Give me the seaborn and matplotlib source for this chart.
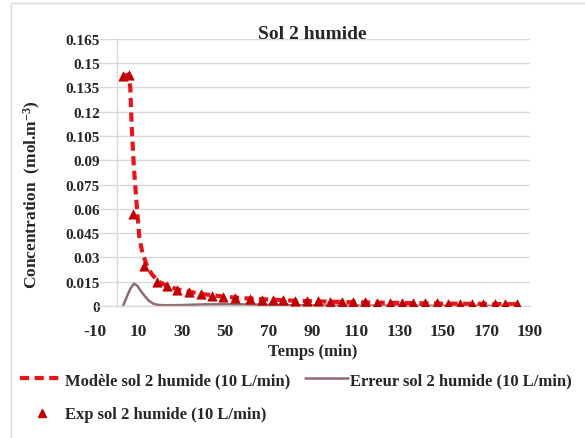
import numpy as np
import pandas as pd
import matplotlib
matplotlib.use("Agg")
import matplotlib.pyplot as plt
from matplotlib.lines import Line2D
import seaborn as sns

# ── Data ──────────────────────────────────────────────────
model_t = [3, 5.5, 6.3, 7, 8, 9.3, 10.5, 12, 14, 16, 18.5, 20, 23, 28, 33, 40, 50,
           60, 70, 80, 90, 100, 110, 120, 130, 140, 150, 160, 170, 184]
model_c = [0.142, 0.143, 0.135, 0.11, 0.085, 0.062, 0.042, 0.032, 0.025, 0.020,
           0.016, 0.0145, 0.0125, 0.0102, 0.0088, 0.0072, 0.0056, 0.0046, 0.0039,
           0.0033, 0.0029, 0.0025, 0.0022, 0.0020, 0.0018, 0.0016, 0.0014, 0.0013,
           0.0012, 0.0010]

err_t = [3, 5, 6.5, 8, 9.5, 11, 13, 15, 17, 19, 22, 30, 40, 50, 60, 70, 80, 100,
         130, 184]
err_c = [0.0, 0.0065, 0.011, 0.0137, 0.0125, 0.0095, 0.006, 0.003, 0.0013, 0.0006,
         0.0004, 0.0005, 0.0009, 0.001, 0.0009, 0.0006, 0.0004, 0.0002, 0.0001, 0.0]

exp_t = [3, 5.5, 7.5, 12.8, 18.5, 23, 28, 33.5, 39, 44, 49, 54.4, 61.3, 66.8, 71.8,
         76.4, 82, 87.5, 92.5, 98, 103.6, 108.6, 114.1, 119.7, 125.6, 131.1, 136.2,
         141.7, 147.2, 152.3, 157.8, 163.3, 168.4, 173.9, 178.5, 184]
exp_c = [0.142, 0.143, 0.057, 0.0245, 0.015, 0.012, 0.010, 0.0087, 0.0075, 0.0064,
         0.0056, 0.0046, 0.0042, 0.0039, 0.0036, 0.0034, 0.0032, 0.0030, 0.0028,
         0.0026, 0.0024, 0.0023, 0.0022, 0.0020, 0.0019, 0.0018, 0.0017, 0.0016,
         0.0015, 0.0014, 0.0013, 0.0012, 0.0012, 0.0011, 0.0010, 0.0010]

x_ticks = [-10, 10, 30, 50, 70, 90, 110, 130, 150, 170, 190]
y_ticks = [0, 0.015, 0.03, 0.045, 0.06, 0.075, 0.09, 0.105, 0.12, 0.135, 0.15, 0.165]
y_labels = ["0", "0.015", "0.03", "0.045", "0.06", "0.075", "0.09", "0.105",
            "0.12", "0.135", "0.15", "0.165"]

lbl_model = "Modèle sol 2 humide (10 L/min)"
lbl_err = "Erreur sol 2 humide (10 L/min)"
lbl_exp = "Exp sol 2 humide (10 L/min)"

# ── Styling ───────────────────────────────────────────────
sns.set_theme(style="white")
plt.rcParams["font.family"] = ["Liberation Serif", "DejaVu Serif"]
plt.rcParams["font.weight"] = "bold"
plt.rcParams["axes.labelweight"] = "bold"
plt.rcParams["mathtext.fontset"] = "custom"
plt.rcParams["mathtext.rm"] = "Liberation Serif:bold"
plt.rcParams["mathtext.it"] = "Liberation Serif:bold"
plt.rcParams["mathtext.bf"] = "Liberation Serif:bold"

C_MODEL = "#E8141B"
C_EXP = "#C00000"
C_ERR = "#8E6B6E"
C_GRID = "#D9D9D9"
FS_TICK = 12.5
FS = 12

fig = plt.figure(figsize=(5.85, 4.39), dpi=100)
ax = fig.add_axes([0.162, 0.301, 0.744, 0.608])

df_model = pd.DataFrame({"t": model_t, "c": model_c})
df_err = pd.DataFrame({"t": err_t, "c": err_c})
df_exp = pd.DataFrame({"t": exp_t, "c": exp_c})

sns.lineplot(data=df_err, x="t", y="c", ax=ax, color=C_ERR, linewidth=1.8,
             sort=False, legend=False)
sns.lineplot(data=df_model, x="t", y="c", ax=ax, color=C_MODEL, linewidth=3.0,
             sort=False, legend=False)
ax.lines[-1].set_dashes([2.2, 1.3])
sns.scatterplot(data=df_exp, x="t", y="c", ax=ax, color=C_EXP, marker="^", s=45,
                edgecolor=C_EXP, linewidth=0.5, zorder=4, legend=False)

ax.set_xlim(-10, 190)
ax.set_ylim(0, 0.165)
ax.set_xticks(x_ticks)
ax.set_xticklabels([str(v) for v in x_ticks], fontsize=FS_TICK, fontweight="bold")
ax.set_yticks(y_ticks)
ax.set_yticklabels(y_labels, fontsize=FS_TICK, fontweight="bold")
ax.tick_params(axis="both", length=0)
ax.tick_params(axis="y", pad=12)
ax.tick_params(axis="x", pad=12)

ax.grid(axis="y", color=C_GRID, linewidth=1.0)
ax.grid(axis="x", visible=False)
for s in ["top", "right"]:
    ax.spines[s].set_visible(False)
ax.spines["left"].set_position(("data", 0))
ax.spines["left"].set_color(C_GRID)
ax.spines["bottom"].set_color(C_GRID)
ax.spines["left"].set_linewidth(1.0)
ax.spines["bottom"].set_linewidth(1.0)
ax.set_axisbelow(True)

ax.set_xlabel("Temps (min)", fontsize=FS, fontweight="bold", labelpad=3)
ax.set_ylabel("")
fig.text(0.055, 0.558, "Concentration  (mol.m$^{-3}$)", rotation=90,
         ha="center", va="center", fontsize=12.5, fontweight="bold")
fig.text(0.534, 0.922, "Sol 2 humide", ha="center", va="center", fontsize=14,
         fontweight="bold")

# legend below the plot: row 1 = model, error ; row 2 = exp
h_model = Line2D([], [], color=C_MODEL, linewidth=3.0, dashes=[2.2, 1.3])
h_err = Line2D([], [], color=C_ERR, linewidth=1.8)
h_exp = Line2D([], [], color=C_EXP, marker="^", linestyle="none", markersize=6)
fig.legend([h_model, h_exp, h_err], [lbl_model, lbl_exp, lbl_err], ncol=2,
           loc="upper left", bbox_to_anchor=(0.034, 0.150), frameon=False,
           prop={"size": FS, "weight": "bold"}, handlelength=2.6,
           handletextpad=0.1, columnspacing=0.9, labelspacing=1.1,
           borderaxespad=0, borderpad=0)

# thin chart-area border (as in the spreadsheet export)
fig.add_artist(Line2D([0.018, 0.018], [0.0, 0.991], transform=fig.transFigure,
                      color="#D9D9D9", linewidth=1.0))
fig.add_artist(Line2D([0.018, 1.0], [0.991, 0.991], transform=fig.transFigure,
                      color="#D9D9D9", linewidth=1.0))

fig.savefig("out.png", dpi=100, facecolor="white")
